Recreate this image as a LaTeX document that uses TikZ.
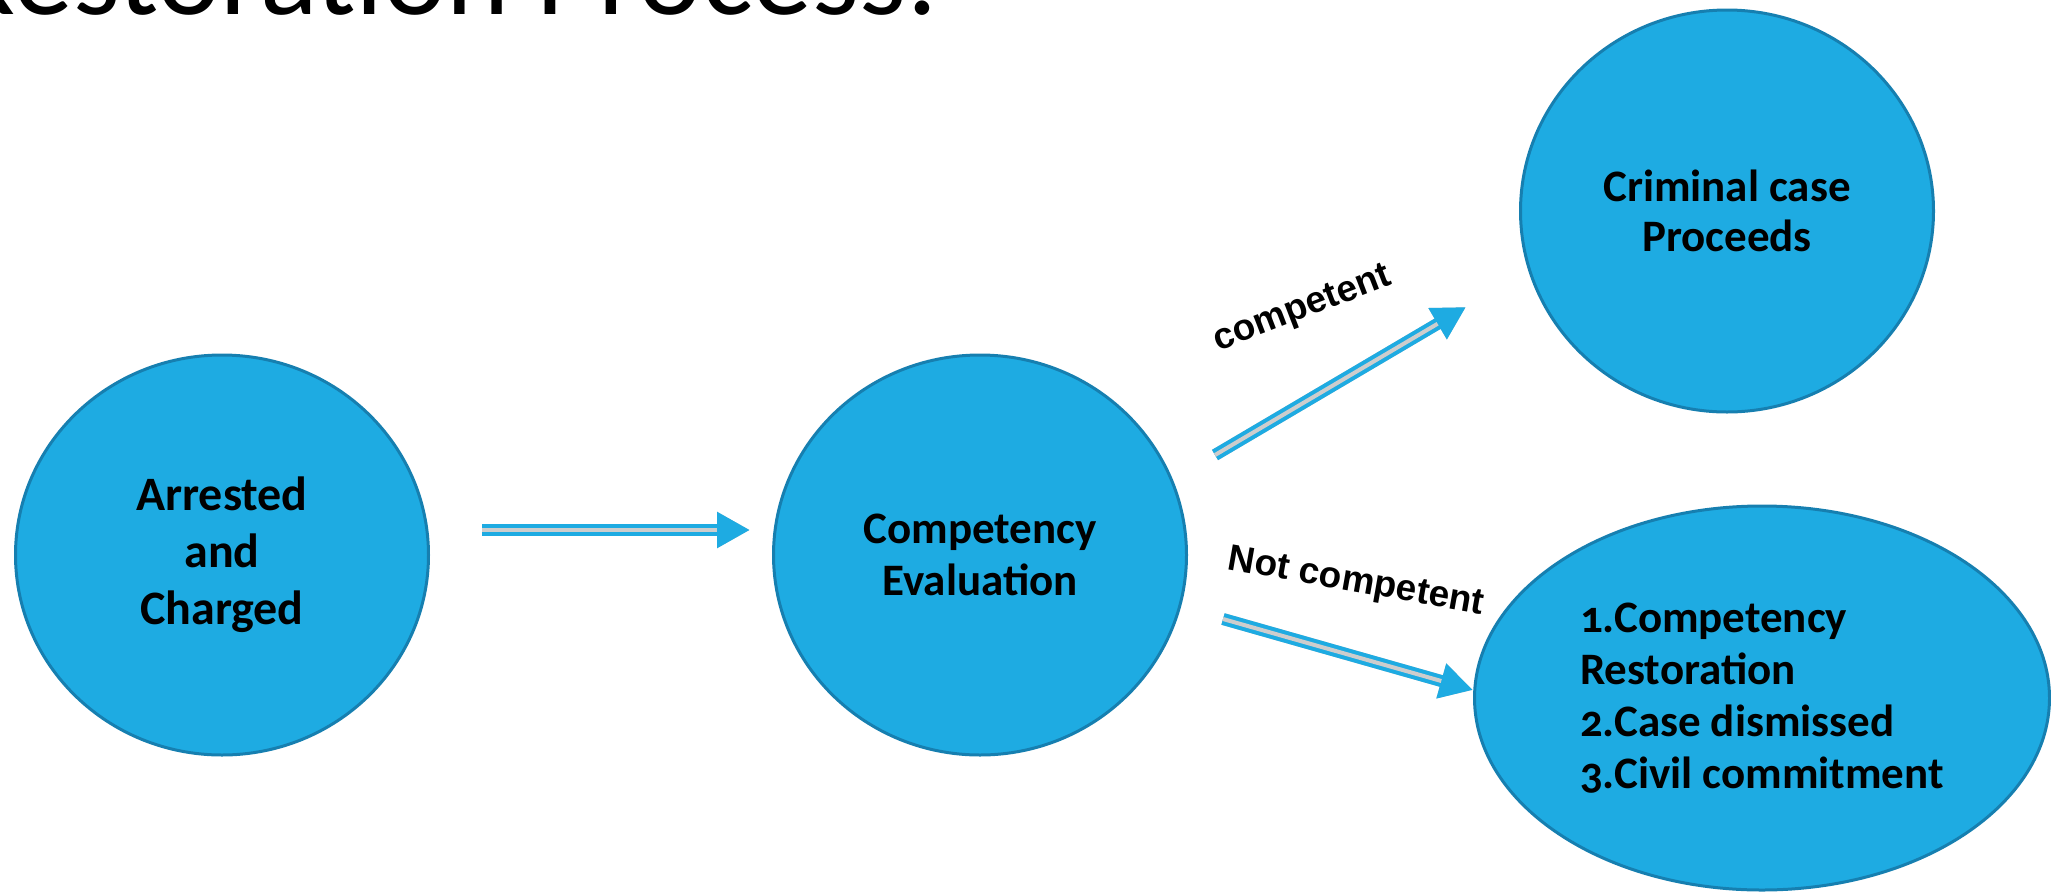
\documentclass[tikz,border=0pt]{standalone}
\usepackage{fontspec}
\setmainfont{Carlito}[Numbers=OldStyle]
\newfontfamily\labelfont{Liberation Sans}
\usetikzlibrary{arrows.meta,shapes.geometric}

\definecolor{bubble}{RGB}{30,171,226}
\definecolor{bubbleedge}{RGB}{22,127,176}
\definecolor{gapgray}{RGB}{205,205,205}
\definecolor{shade}{RGB}{200,200,200}

\begin{document}
\begin{tikzpicture}[x=1pt,y=-1pt,
  stage/.style={ellipse, draw=bubbleedge, line width=3pt, fill=bubble,
    inner sep=0pt, align=center,
    font=\bfseries\fontsize{45}{52}\selectfont},
  flow/.style={line width=12pt, draw=bubble, fill=bubble,
    -{Triangle[length=33pt,width=34pt]}},
  flowshade/.style={line width=12pt, draw=shade, fill=shade,
    -{Triangle[length=33pt,width=34pt]}},
  flowgap/.style={line width=4pt, draw=gapgray, shorten >=33pt},
  tag/.style={font=\labelfont\bfseries\fontsize{37}{40}\selectfont, inner sep=0pt}
]
\useasboundingbox (0,0) rectangle (2051,892);

% heading, mostly above the page edge
\node[anchor=base west, inner sep=0pt, font=\fontsize{120}{128}\selectfont]
  (title) at (-50,14) {Restoration Process:};

% stages
\node[stage, minimum width=413pt, minimum height=400pt,
  font=\bfseries\fontsize{48}{57}\selectfont]
  (arrest) at (222,555) {Arrested\\and\\Charged};
\node[stage, minimum width=413pt, minimum height=400pt]
  (eval) at (980,555) {Competency\\Evaluation};
\node[stage, minimum width=413pt, minimum height=402pt,
  font=\bfseries\fontsize{45}{50}\selectfont]
  (proceed) at (1727,211) {Criminal case\\Proceeds};
\node[stage, minimum width=575pt, minimum height=384pt, align=left]
  (outcome) at (1762,698)
  {1.Competency\\Restoration\\2.Case dismissed\\3.Civil commitment};

% connector end points
\coordinate (a1) at (482,530);
\coordinate (b1) at (750,530);
\coordinate (a2) at (1215,455);
\coordinate (b2) at (1466,307);
\coordinate (a3) at (1223,619);
\coordinate (b3) at (1473,690);

% arrows: drop shadow, blue body, light centre stripe
\foreach \s/\e in {a1/b1,a2/b2,a3/b3}{
  \draw[flowshade, shift={(3,5)}] (\s) -- (\e);
  \draw[flow] (\s) -- (\e);
  \draw[flowgap] (\s) -- (\e);
}

% arrow labels
\node[tag, rotate=21] (yes) at (1303,310) {competent};
\node[tag, rotate=-10] (no) at (1356,583) {Not competent};
\end{tikzpicture}
\end{document}
